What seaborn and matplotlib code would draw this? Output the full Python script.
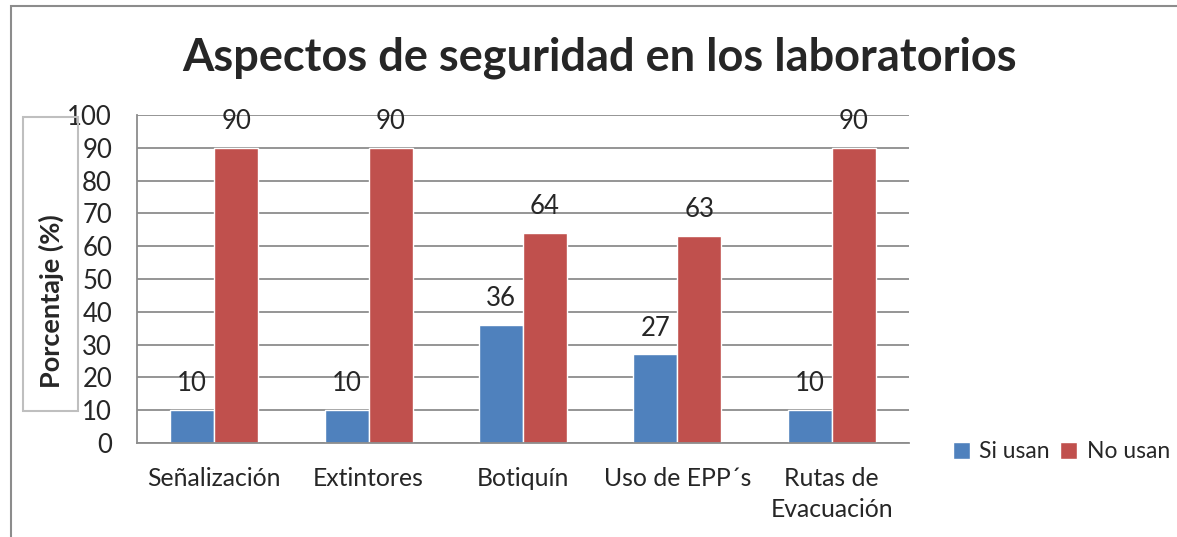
import pandas as pd
import seaborn as sns
import matplotlib.pyplot as plt
from matplotlib.patches import Rectangle, Patch

# Datos del gráfico
categorias = ["Señalización", "Extintores", "Botiquín", "Uso de EPP´s", "Rutas de\nEvacuación"]
si_usan = [10, 10, 36, 27, 10]
no_usan = [90, 90, 64, 63, 90]
series = ["Si usan", "No usan"]
colores = ["#4F81BD", "#C0504D"]

df = pd.DataFrame({
    "Aspecto": categorias * 2,
    "Valor": si_usan + no_usan,
    "Serie": [series[0]] * len(categorias) + [series[1]] * len(categorias),
})

sns.set_style("white")
plt.rcParams["font.family"] = ["Lato", "DejaVu Sans"]

fig = plt.figure(figsize=(11.77, 5.37), dpi=100)
W, H = 1177, 537
ax = fig.add_axes([137 / W, 1 - 443 / H, (909 - 137) / W, (443 - 115) / H])

sns.barplot(data=df, x="Aspecto", y="Valor", hue="Serie", palette=colores,
            width=0.57, gap=0, saturation=1, ax=ax, legend=False, errorbar=None)

for cont in ax.containers:
    ax.bar_label(cont, fmt="%g", padding=10, fontsize=18.5)

ax.set_ylim(0, 100)
ax.set_yticks(range(0, 101, 10))
ax.yaxis.grid(True, color="#8C8C8C", linewidth=1.3)
ax.set_axisbelow(True)
for s in ["top", "right"]:
    ax.spines[s].set_visible(False)
for s in ["left", "bottom"]:
    ax.spines[s].set_color("#8C8C8C")
    ax.spines[s].set_linewidth(1.3)
ax.tick_params(axis="y", length=0, pad=18, labelsize=18.5)
ax.tick_params(axis="x", length=0, pad=17, labelsize=17.8)
for t in ax.get_xticklabels():
    t.set_linespacing(1.45)
ax.set_xlabel("")
ax.set_ylabel("")

# Título
fig.text(600 / W, 1 - 58 / H, "Aspectos de seguridad en los laboratorios",
         ha="center", va="center", fontsize=32.5, fontweight="bold")

# Caja del eje Y
fig.patches.append(Rectangle((23 / W, 1 - 411 / H), 55 / W, 294 / H,
                             transform=fig.transFigure, fill=False,
                             edgecolor="#BFBFBF", linewidth=1.5))
fig.text(51 / W, 1 - 301 / H, "Porcentaje (%)", rotation=90, ha="center",
         va="center", fontsize=19.5, fontweight="bold")

# Marco exterior
fig.patches.append(Rectangle((11 / W, -0.1), 1.2, 1.1 - 6 / H,
                             transform=fig.transFigure, fill=False,
                             edgecolor="#8C8C8C", linewidth=1.5))

handles = [Patch(facecolor=c, label=l) for c, l in zip(colores, series)]
fig.legend(handles=handles, loc="center left", bbox_to_anchor=(953 / W, 1 - 452 / H),
           ncol=2, frameon=False, fontsize=16.5, handlelength=0.75, handleheight=0.75,
           handletextpad=0.4, columnspacing=0.45, borderaxespad=0, borderpad=0)

fig.savefig("out.png", dpi=100)
